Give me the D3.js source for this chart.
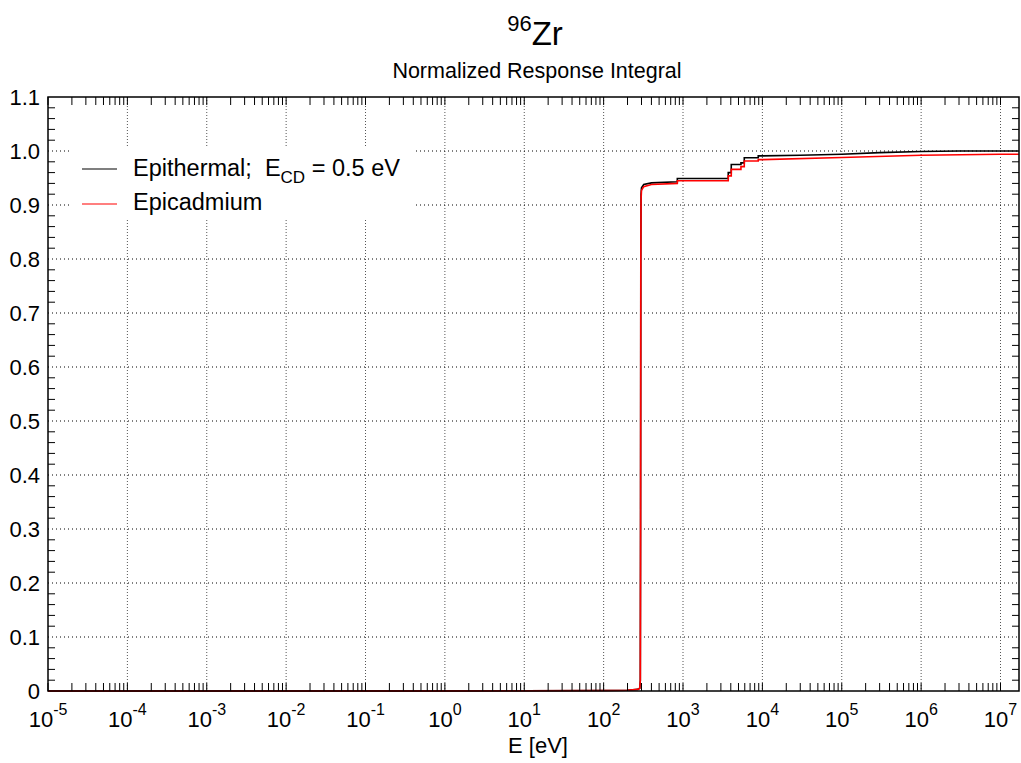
<!DOCTYPE html>
<html><head><meta charset="utf-8">
<script src="https://cdn.jsdelivr.net/npm/d3@7"></script>
<style>body{margin:0;background:#fff}svg{display:block}text{font-family:"Liberation Sans",Arial,sans-serif}</style>
</head><body>
<script>
// ---- data ----
const epiE   = [1e-5, 1, 10, 100, 200, 270, 285, 290, 292, 294, 296, 300, 320, 400, 848, 848, 3715, 3715, 4055, 4055, 5370, 5370, 5915, 5915, 8870, 8870, 1e4, 3e4, 1e5, 3e5, 1e6, 3e6, 1.7e7];
const epiV   = [0, 0.0002, 0.0005, 0.001, 0.0015, 0.003, 0.005, 0.02, 0.3, 0.8, 0.92, 0.932, 0.938, 0.941, 0.943, 0.949, 0.949, 0.960, 0.960, 0.975, 0.975, 0.978, 0.978, 0.9876, 0.9876, 0.991, 0.991, 0.992, 0.994, 0.997, 0.999, 1.0, 1.0];
const cadE   = [1e-5, 1, 10, 100, 200, 270, 285, 290, 292, 294, 296, 300, 320, 400, 848, 848, 3715, 3715, 4055, 4055, 5370, 5370, 5915, 5915, 8870, 8870, 1e4, 1e5, 1e6, 1e7, 1.7e7];
const cadV   = [0, 0.0002, 0.0005, 0.001, 0.0015, 0.003, 0.005, 0.02, 0.3, 0.8, 0.91, 0.927, 0.934, 0.938, 0.940, 0.945, 0.945, 0.954, 0.954, 0.966, 0.966, 0.971, 0.971, 0.9815, 0.9815, 0.984, 0.984, 0.988, 0.992, 0.994, 0.994];
const yTicks = [0, 0.1, 0.2, 0.3, 0.4, 0.5, 0.6, 0.7, 0.8, 0.9, 1.0, 1.1];
const yTickLabels = ["0", "0.1", "0.2", "0.3", "0.4", "0.5", "0.6", "0.7", "0.8", "0.9", "1.0", "1.1"];
const xExponents = [-5, -4, -3, -2, -1, 0, 1, 2, 3, 4, 5, 6, 7];
const legendLabels = ["Epithermal", "Epicadmium"];

const W = 1021, H = 763;
const m = {l: 48, r: 1019, t: 97, b: 691};
const svg = d3.select("body").append("svg").attr("width", W).attr("height", H);
const x = d3.scaleLog().domain([1e-5, Math.pow(10, 7.233)]).range([m.l, m.r]);
const y = d3.scaleLinear().domain([0, 1.1]).range([m.b, m.t]);

// gridlines
const g = svg.append("g");
xExponents.slice(1).forEach(e => {
  const xx = x(Math.pow(10, e));
  g.append("line").attr("x1", xx).attr("x2", xx).attr("y1", m.t).attr("y2", m.b)
    .attr("stroke", "#555").attr("stroke-width", 1).attr("stroke-dasharray", "1,2");
});
yTicks.slice(1, -1).forEach(v => {
  g.append("line").attr("x1", m.l).attr("x2", m.r).attr("y1", y(v)).attr("y2", y(v))
    .attr("stroke", "#000").attr("stroke-width", 1).attr("stroke-dasharray", "1,3");
});

// legend background
svg.append("rect").attr("x", 70).attr("y", 147).attr("width", 343).attr("height", 72).attr("fill", "#fff");

// curves
const line = d3.line().x(d => x(d[0])).y(d => y(d[1]));
svg.append("path").datum(epiE.map((e, i) => [e, epiV[i]])).attr("d", line)
  .attr("fill", "none").attr("stroke", "#000").attr("stroke-width", 1.6);
svg.append("path").datum(cadE.map((e, i) => [e, cadV[i]])).attr("d", line)
  .attr("fill", "none").attr("stroke", "#ff0000").attr("stroke-width", 1.6);

// frame
svg.append("rect").attr("x", m.l).attr("y", m.t).attr("width", m.r - m.l).attr("height", m.b - m.t)
  .attr("fill", "none").attr("stroke", "#000").attr("stroke-width", 1.5);

// x ticks (major + minor) bottom and top
const xt = svg.append("g").attr("stroke", "#000").attr("stroke-width", 1);
xExponents.forEach(e => {
  for (let k = 1; k <= 9; k++) {
    const v = k * Math.pow(10, e);
    if (v > x.domain()[1]) continue;
    const xx = x(v);
    xt.append("line").attr("x1", xx).attr("x2", xx).attr("y1", m.b).attr("y2", m.b - 8);
    xt.append("line").attr("x1", xx).attr("x2", xx).attr("y1", m.t).attr("y2", m.t + 8);
  }
});
// y minor ticks left and right
for (let i = 0; i <= 55; i++) {
  const v = i * 0.02;
  if (i % 5 === 0) continue;
  xt.append("line").attr("x1", m.l).attr("x2", m.l + 7).attr("y1", y(v)).attr("y2", y(v));
  xt.append("line").attr("x1", m.r).attr("x2", m.r - 7).attr("y1", y(v)).attr("y2", y(v));
}

// y labels
yTicks.forEach((v, i) => {
  svg.append("text").attr("x", 40).attr("y", y(v) + 8).attr("text-anchor", "end")
    .attr("font-size", 22).text(yTickLabels[i]);
});
// x labels
xExponents.forEach(e => {
  const t = svg.append("text").attr("x", x(Math.pow(10, e))).attr("y", 727).attr("text-anchor", "middle")
    .attr("font-size", 22);
  t.append("tspan").text("10");
  t.append("tspan").attr("dy", -12).attr("font-size", 16).text(String(e));
});
// axis title
svg.append("text").attr("x", 538).attr("y", 753).attr("text-anchor", "middle").attr("font-size", 22).text("E [eV]");

// title
const tt = svg.append("text").attr("x", 535).attr("y", 45).attr("text-anchor", "middle").attr("font-size", 33);
tt.append("tspan").attr("font-size", 22).attr("dy", -14).text("96");
tt.append("tspan").attr("dy", 14).text("Zr");
svg.append("text").attr("x", 537).attr("y", 78).attr("text-anchor", "middle").attr("font-size", 21.5)
  .text("Normalized Response Integral");

// legend
svg.append("line").attr("x1", 82).attr("x2", 117).attr("y1", 169).attr("y2", 169).attr("stroke", "#000").attr("stroke-width", 1.2);
svg.append("line").attr("x1", 82).attr("x2", 117).attr("y1", 204).attr("y2", 204).attr("stroke", "#ff0000").attr("stroke-width", 1.2);
const l1 = svg.append("text").attr("x", 133).attr("y", 176).attr("font-size", 23.5);
l1.append("tspan").text(legendLabels[0] + ";\u00a0\u00a0E");
l1.append("tspan").attr("dy", 7).attr("font-size", 17).text("CD");
l1.append("tspan").attr("dy", -7).text(" = 0.5 eV");
svg.append("text").attr("x", 133).attr("y", 210).attr("font-size", 23.5).text(legendLabels[1]);
</script>
</body></html>
